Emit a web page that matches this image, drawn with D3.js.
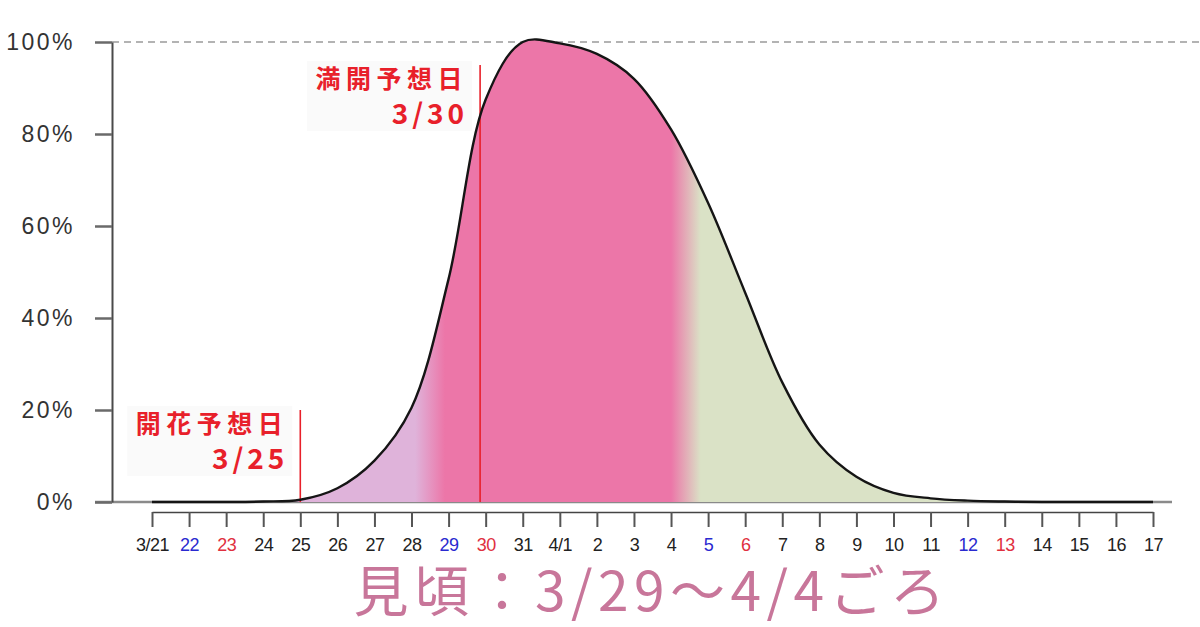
<!DOCTYPE html>
<html><head><meta charset="utf-8">
<script src="https://cdn.jsdelivr.net/npm/d3@7"></script>
<style>body{margin:0;background:#fff;} svg{display:block}</style>
</head><body><svg id="c" width="1200" height="627"></svg>
<script>
// ---- data ----
const dayLabels = ["3/21","22","23","24","25","26","27","28","29","30","31","4/1","2","3","4","5","6","7","8","9","10","11","12","13","14","15","16","17"];
const bloomPct  = [0,0,0,0.1,0.5,3,9,20.5,48.5,87.5,100,99.7,97.4,92,81,65,45.5,26,12.5,5.5,2,0.8,0.3,0.1,0,0,0,0];
const saturdayLabels = ["22","29","5","12"];
const sundayLabels   = ["23","30","6","13"];
const yTicks = [0,20,40,60,80,100];
const markerDays   = [4, 8.85];
const markerNames  = ["開花予想日","満開予想日"];
const markerDates  = ["3/25","3/30"];
const markerTops   = [20, 95];
const phaseDays    = [7.1, 7.9, 14.0, 14.8]; // bud->bloom, bloom->leaf transitions
const titleText = "見頃：3/29〜4/4ごろ";

// ---- layout ----
const svg = d3.select("#c");
const x = d3.scaleLinear().domain([0, dayLabels.length-1]).range([152,1153]);
const y = d3.scaleLinear().domain([0,100]).range([502,42]);
const font = "'Liberation Sans', Arial, sans-serif";

// gradient
const defs = svg.append("defs");
const g = defs.append("linearGradient").attr("id","phase")
  .attr("gradientUnits","userSpaceOnUse")
  .attr("x1", x(0)).attr("x2", x(dayLabels.length-1)).attr("y1",0).attr("y2",0);
const phaseColors = ["#dfb3da","#ec76a8","#ec76a8","#dae2c6"];
const span = x(dayLabels.length-1)-x(0);
phaseDays.forEach((d,i)=>{
  g.append("stop").attr("offset", (x(d)-x(0))/span).attr("stop-color", phaseColors[i]);
});

// dashed 100% line
svg.append("line").attr("x1",112).attr("x2",1200).attr("y1",y(100)).attr("y2",y(100))
  .attr("stroke","#9a9a9a").attr("stroke-width",1.5).attr("stroke-dasharray","7,5");

// baseline gray
svg.append("line").attr("x1",95).attr("x2",1172).attr("y1",y(0)).attr("y2",y(0))
  .attr("stroke","#8a8a8a").attr("stroke-width",2.5);

// area
const idx = bloomPct.map((v,i)=>i);
const curve = d3.curveCatmullRom.alpha(0.5);
const area = d3.area().x(i=>x(i)).y0(y(0)).y1(i=>y(bloomPct[i])).curve(curve);
const line = d3.line().x(i=>x(i)).y(i=>y(bloomPct[i])).curve(curve);
svg.append("path").attr("d", area(idx)).attr("fill","url(#phase)");

// marker label boxes + lines
markerDays.forEach((d,i)=>{
  const xr = x(d);
  const yTop = y(markerTops[i]);
  svg.append("rect").attr("x", xr-173).attr("y", yTop-4).attr("width",165).attr("height",70)
    .attr("fill","#fafafa");
  svg.append("line").attr("x1",xr).attr("x2",xr).attr("y1",yTop).attr("y2",y(0))
    .attr("stroke","#e8202a").attr("stroke-width",1.6);
  svg.append("text").attr("x", xr-12).attr("y", yTop+23).attr("text-anchor","end")
    .attr("font-family","'Noto Sans CJK JP', sans-serif").attr("font-weight","bold")
    .attr("font-size",25).attr("letter-spacing",5.5).attr("fill","#e8202a").text(markerNames[i]);
  svg.append("text").attr("x", xr-12).attr("y", yTop+59).attr("text-anchor","end")
    .attr("font-family","'Noto Sans CJK JP', sans-serif").attr("font-weight","bold")
    .attr("font-size",28).attr("letter-spacing",4).attr("fill","#e8202a").text(markerDates[i]);
});

svg.append("path").attr("d", line(idx)).attr("fill","none").attr("stroke","#151515").attr("stroke-width",2.4);

// y axis
const ya = svg.append("g").attr("transform","translate(112,0)")
  .call(d3.axisLeft(y).tickValues(yTicks).tickFormat(d=>d+"%").tickSize(17).tickSizeOuter(0).tickPadding(20));
ya.select(".domain").attr("stroke","#4a4a4a").attr("stroke-width",2);
ya.selectAll(".tick line").attr("stroke","#6a6a6a").attr("stroke-width",2.5);
ya.selectAll("text").attr("font-family",font).attr("font-size",23).attr("fill","#333")
  .attr("letter-spacing",2.5);

// x axis
const xa = svg.append("g").attr("transform","translate(0,512)")
  .call(d3.axisBottom(x).tickValues(idx).tickFormat(i=>dayLabels[i]).tickSize(15).tickSizeOuter(0).tickPadding(11));
xa.select(".domain").attr("stroke","#444").attr("stroke-width",1.5);
xa.selectAll(".tick line").attr("stroke","#555").attr("stroke-width",2);
xa.selectAll("text").attr("font-family",font).attr("font-size",18).attr("letter-spacing",-0.5)
  .attr("fill", i=> saturdayLabels.includes(dayLabels[i]) ? "#2a2ad0" : sundayLabels.includes(dayLabels[i]) ? "#e03040" : "#222");

// title
svg.append("text").attr("x", 652).attr("y", 611).attr("text-anchor","middle")
  .attr("font-family","'Noto Sans CJK JP', sans-serif").attr("font-size",55)
  .attr("letter-spacing",5.5).attr("fill","#c8769a").text(titleText);
</script></body></html>
